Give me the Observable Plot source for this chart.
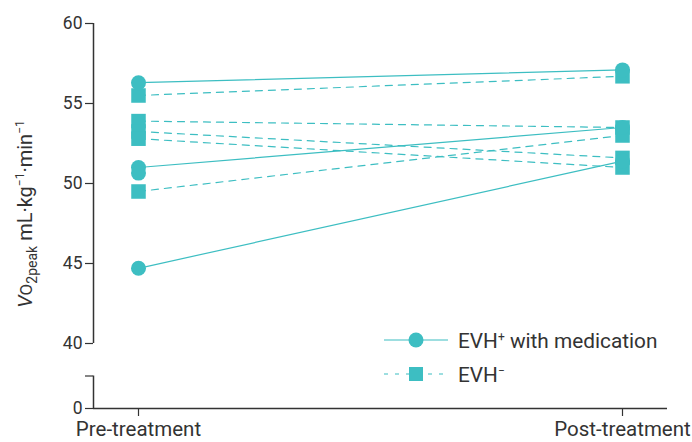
<!DOCTYPE html>
<html><head><meta charset="utf-8">
<script src="https://cdn.jsdelivr.net/npm/d3@7"></script>
<script src="https://cdn.jsdelivr.net/npm/@observablehq/plot@0.6"></script>
<style>
body{margin:0;background:#fff;}
#chart{position:relative;width:692px;height:442px;font-family:Roboto,sans-serif;}
#legend{position:absolute;left:0;top:0;pointer-events:none;}
</style></head><body><div id="chart"></div>
<script>
const timepoints = ["Pre-treatment", "Post-treatment"];
const seriesNames = ["EVH+ with medication", "EVH−"];
const evhPlusPre = [56.3, 51.0, 50.65, 44.7];
const evhPlusPost = [57.1, 53.5, null, 51.4];
const evhMinusPre = [55.5, 53.9, 53.25, 52.8, 49.5];
const evhMinusPost = [56.7, 53.5, 51.6, 51.0, 53.0];
const yTicks = [0, 20, 40, 45, 50, 55, 60];
const yLabelledTicks = [0, 40, 45, 50, 55, 60];
const axisSegments = [{from: 0, to: 20}, {from: 40, to: 60}];

const teal = "#3dbec2";
const ink = "#333333";

const rows = [];
function addGroup(name, pre, post) {
  pre.forEach((v, i) => {
    rows.push({subject: name + i, group: name, time: timepoints[0], value: v});
    rows.push({subject: name + i, group: name, time: timepoints[1], value: post[i]});
  });
}
addGroup(seriesNames[0], evhPlusPre, evhPlusPost);
addGroup(seriesNames[1], evhMinusPre, evhMinusPost);
const plusRows = rows.filter(d => d.group === seriesNames[0]);
const minusRows = rows.filter(d => d.group === seriesNames[1]);

const plot = Plot.plot({
  width: 692,
  height: 442,
  marginLeft: 93,
  marginRight: 25,
  marginTop: 23,
  marginBottom: 34,
  style: {fontFamily: "Roboto", fontSize: "17px", color: ink, background: "#fff"},
  x: {type: "point", domain: timepoints, padding: 45 / 484},
  y: {type: "linear", domain: [0, 40, 60], range: [408, 343, 23]},
  marks: [
    Plot.ruleY([0], {stroke: ink, strokeWidth: 1.5}),
    Plot.ruleX(axisSegments, {x: () => timepoints[0], dx: -45, y1: "from", y2: "to", stroke: ink, strokeWidth: 1.5}),
    Plot.axisY({ticks: yTicks, tickFormat: d => yLabelledTicks.includes(d) ? String(d) : "", tickSize: 8, tickPadding: 3, label: null, stroke: ink, strokeWidth: 1.2, fill: ink, fontSize: 17.5}),
    Plot.axisX({tickSize: 8, tickPadding: 5, label: null, stroke: ink, strokeWidth: 1.2, fill: ink, fontSize: 20.5}),
    Plot.line(minusRows, {x: "time", y: "value", z: "subject", stroke: teal, strokeWidth: 1.2, strokeDasharray: "7,6"}),
    Plot.line(plusRows, {x: "time", y: "value", z: "subject", stroke: teal, strokeWidth: 1.2}),
    Plot.dot(minusRows, {x: "time", y: "value", symbol: "square", r: 8.2, fill: teal}),
    Plot.dot(plusRows, {x: "time", y: "value", r: 7.5, fill: teal})
  ]
});

const chart = document.getElementById("chart");
chart.appendChild(plot);

// Y axis title with italic V, subscript and superscripts
const yt = d3.select(plot).append("text")
  .attr("transform", "translate(32,214) rotate(-90)")
  .attr("text-anchor", "middle")
  .attr("fill", ink)
  .style("font-family", "Roboto")
  .style("font-size", "20px");
yt.append("tspan").attr("font-style", "italic").text("V");
yt.append("tspan").attr("font-size", "17px").text("O");
yt.append("tspan").attr("font-size", "14px").attr("dy", 5).text("2peak");
yt.append("tspan").attr("dy", -5).text(" mL·kg");
yt.append("tspan").attr("font-size", "12px").attr("dy", -8).text("−1");
yt.append("tspan").attr("dy", 8).text("·min");
yt.append("tspan").attr("font-size", "12px").attr("dy", -8).text("−1");

// Legend overlay
const leg = d3.select(chart).append("svg").attr("id", "legend")
  .attr("width", 692).attr("height", 442);
const legendItems = [
  {label: "EVH", sup: "+", rest: " with medication", dash: null, symbol: "circle", cy: 340},
  {label: "EVH", sup: "−", rest: "", dash: "4,7", symbol: "square", cy: 374}
];
legendItems.forEach(it => {
  const g = leg.append("g");
  g.append("line").attr("x1", 384).attr("x2", 448).attr("y1", it.cy).attr("y2", it.cy)
    .attr("stroke", teal).attr("stroke-width", 1.2).attr("stroke-dasharray", it.dash);
  if (it.symbol === "circle") g.append("circle").attr("cx", 416).attr("cy", it.cy).attr("r", 7.5).attr("fill", teal);
  else g.append("rect").attr("x", 409).attr("y", it.cy - 7).attr("width", 14).attr("height", 14).attr("fill", teal);
  const t = g.append("text").attr("x", 458).attr("y", it.cy + 7.5).attr("fill", ink)
    .style("font-family", "Roboto").style("font-size", "20.8px");
  t.append("tspan").text(it.label);
  t.append("tspan").attr("font-size", "12px").attr("dy", -7).text(it.sup);
  if (it.rest) t.append("tspan").attr("dy", 7).text(it.rest);
});
</script></body></html>
